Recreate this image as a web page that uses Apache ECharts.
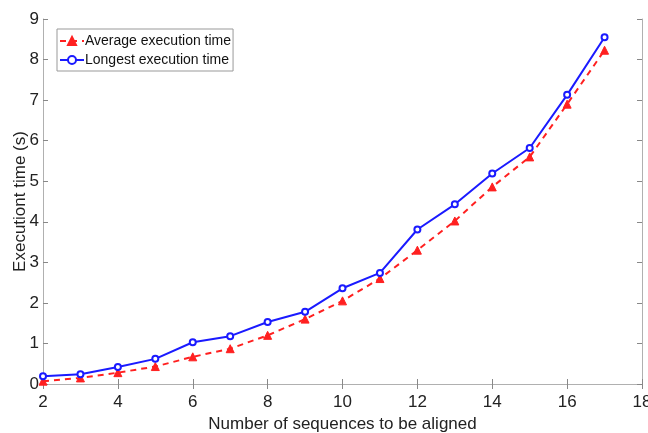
<!DOCTYPE html>
<html><head><meta charset="utf-8">
<script src="https://cdn.jsdelivr.net/npm/echarts@6/dist/echarts.min.js"></script>
<style>html,body{margin:0;padding:0;background:#fff}#c{width:648px;height:433px}</style>
</head><body><div id="c"></div>
<script>
const xValues = [2,3,4,5,6,7,8,9,10,11,12,13,14,15,16,17];
const avgTime = [0.07,0.15,0.28,0.43,0.67,0.87,1.20,1.60,2.05,2.60,3.30,4.02,4.86,5.60,6.90,8.23];
const longestTime = [0.19,0.24,0.42,0.62,1.03,1.18,1.53,1.78,2.36,2.74,3.81,4.43,5.19,5.82,7.13,8.55];
const seriesNames = ['Average execution time','Longest execution time'];
const xTitle = 'Number of sequences to be aligned';
const yTitle = 'Executiont time (s)';

const font = 'Liberation Sans, Arial, sans-serif';
const axisLineStyle = {show:true, lineStyle:{color:'#b0b0b0', width:1}};
const chart = echarts.init(document.getElementById('c'), null, {renderer:'canvas'});
const pairs = a => xValues.map((x,i)=>[x,a[i]]);
chart.setOption({
  animation:false,
  grid:{left:43,right:6,top:19,bottom:49,containLabel:false,outerBoundsMode:'none'},
  legend:{
    orient:'vertical', left:57, top:29, itemGap:5, itemWidth:24, itemHeight:10,
    borderColor:'#999', borderWidth:1, padding:[5,2,4,2], backgroundColor:'#fff',
    textStyle:{fontFamily:font, fontSize:14, color:'#111', padding:[0,0,0,-4]},
    data:seriesNames
  },
  xAxis:[{
    type:'value', min:2, max:18, interval:2,
    axisLine:axisLineStyle,
    axisTick:{show:true, inside:true, length:5, lineStyle:{color:'#888'}},
    axisLabel:{fontFamily:font, fontSize:17, color:'#222', margin:10},
    splitLine:{show:false},
    name:xTitle, nameLocation:'middle', nameGap:32, nameMoveOverlap:false,
    nameTextStyle:{fontFamily:font, fontSize:17, color:'#222'}
  },{
    type:'value', position:'top', min:2, max:18, interval:2,
    axisLine:axisLineStyle,
    axisTick:{show:true, inside:true, length:5, lineStyle:{color:'#888'}},
    axisLabel:{show:false}, splitLine:{show:false}
  }],
  yAxis:[{
    type:'value', min:0, max:9, interval:1,
    axisLine:axisLineStyle,
    axisTick:{show:true, inside:true, length:5, lineStyle:{color:'#888'}},
    axisLabel:{fontFamily:font, fontSize:17, color:'#222', margin:4},
    splitLine:{show:false},
    name:yTitle, nameLocation:'middle', nameGap:14, nameRotate:90, nameMoveOverlap:false,
    nameTextStyle:{fontFamily:font, fontSize:17, color:'#222'}
  },{
    type:'value', position:'right', min:0, max:9, interval:1,
    axisLine:axisLineStyle,
    axisTick:{show:true, inside:true, length:5, lineStyle:{color:'#888'}},
    axisLabel:{show:false}, splitLine:{show:false}
  }],
  series:[{
    name:seriesNames[0], type:'line', data:pairs(avgTime),
    symbol:'triangle', symbolSize:8, showAllSymbol:true,
    lineStyle:{color:'#ff2020', width:2, type:[6,5]},
    itemStyle:{color:'#ff2020', borderColor:'#ff2020', borderWidth:1},
    z:2
  },{
    name:seriesNames[1], type:'line', data:pairs(longestTime),
    symbol:'emptyCircle', symbolSize:6, showAllSymbol:true,
    lineStyle:{color:'#1a1aff', width:2},
    itemStyle:{color:'#1a1aff', borderColor:'#1a1aff', borderWidth:1.5},
    z:3
  }]
});
</script></body></html>
